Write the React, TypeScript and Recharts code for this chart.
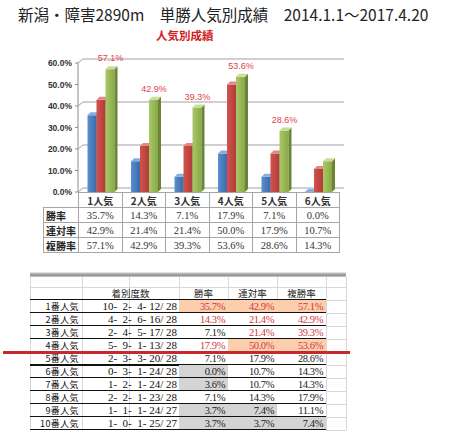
import React from 'react';
import { BarChart, Bar, XAxis, YAxis, CartesianGrid, LabelList } from 'recharts';

// chart + data table
const categories = ['1人気', '2人気', '3人気', '4人気', '5人気', '6人気'];
const winRate = [35.7, 14.3, 7.1, 17.9, 7.1, 0.0];
const placeRate = [42.9, 21.4, 21.4, 50.0, 17.9, 10.7];
const showRate = [57.1, 42.9, 39.3, 53.6, 28.6, 14.3];
const showLabelled = [true, true, true, true, true, false];
const yTicks = [0, 10, 20, 30, 40, 50, 60];
const tableLabels = ['勝率', '連対率', '複勝率'];

// spreadsheet
const rankNames = ['1番人気', '2番人気', '3番人気', '4番人気', '5番人気', '6番人気', '7番人気', '8番人気', '9番人気', '10番人気'];
const firsts = [10, 4, 2, 5, 2, 0, 1, 2, 1, 1];
const seconds = [2, 2, 4, 9, 3, 3, 2, 2, 1, 0];
const thirds = [4, 6, 5, 1, 3, 1, 1, 1, 1, 1];
const others = [12, 16, 17, 13, 20, 24, 24, 23, 24, 25];
const runs = [28, 28, 28, 28, 28, 28, 28, 28, 27, 27];
const sheetWin = ['35.7%', '14.3%', '7.1%', '17.9%', '7.1%', '0.0%', '3.6%', '7.1%', '3.7%', '3.7%'];
const sheetPlace = ['42.9%', '21.4%', '21.4%', '50.0%', '17.9%', '10.7%', '10.7%', '14.3%', '7.4%', '3.7%'];
const sheetShow = ['57.1%', '42.9%', '39.3%', '53.6%', '28.6%', '14.3%', '14.3%', '17.9%', '11.1%', '7.4%'];
const sheetHeads = ['着別度数', '勝率', '連対率', '複勝率'];
// o = orange fill + red text, r = red text, g = grey fill
const cellMarks = [
  ['o', 'o', 'o'],
  ['r', 'r', 'r'],
  ['', 'r', 'r'],
  ['r', 'o', 'o'],
  ['', '', ''],
  ['g', '', ''],
  ['g', '', ''],
  ['', '', ''],
  ['g', 'g', ''],
  ['g', 'g', 'g'],
];

const chartData = categories.map((name, i) => ({ name, win: winRate[i], place: placeRate[i], show: showRate[i] }));

const JP = '"Noto Sans CJK JP", sans-serif';
const SERIF = '"Liberation Serif", "DejaVu Serif", serif';

const bar3d = (grad: string, side: string, top: string) => (p: any) => {
  const { x, y, width, height } = p;
  if (x == null || y == null) return null;
  const d = 3;
  const bx = x + 1.5;
  const h = Math.max(height, 0);
  return (
    <g>
      <rect x={bx} y={y} width={width} height={h} fill={`url(#${grad})`} />
      <polygon points={`${bx + width},${y} ${bx + width + d},${y - d} ${bx + width + d},${y + h - d} ${bx + width},${y + h}`} fill={side} />
      <polygon points={`${bx},${y} ${bx + d},${y - d} ${bx + width + d},${y - d} ${bx + width},${y}`} fill={top} />
    </g>
  );
};

const wallLine = (p: any) => (
  <path
    key={`wall-${p.index}`}
    d={`M${p.x1},${p.y1} L${p.x1 + 5},${p.y1 - 4} L${p.x2 + 5},${p.y2 - 4}`}
    stroke="#a0a0a0"
    fill="none"
  />
);

const greenLabel = (p: any) => {
  if (!showLabelled[p.index]) return null;
  return (
    <text
      key={`lbl-${p.index}`}
      x={p.x + p.width / 2 + 2}
      y={p.y - 8}
      textAnchor="middle"
      fill="#e0424a"
      fontSize={9}
      fontFamily='"Liberation Sans", Arial, sans-serif'
    >
      {`${Number(p.value).toFixed(1)}%`}
    </text>
  );
};

const abs = (left: number, top: number, width: number, height: number): React.CSSProperties => ({
  position: 'absolute',
  left,
  top,
  width,
  height,
  boxSizing: 'border-box',
});

const DataTable = () => {
  const x0 = 43;
  const x1 = 78;
  const cw = 43.5;
  const top = 192;
  const rh = 15;
  const line = '1px solid #a6a6a6';
  const cells: React.ReactNode[] = [];
  categories.forEach((c, j) => {
    cells.push(
      <div key={`h${j}`} style={{ ...abs(x1 + j * cw, top, cw + 1, rh + 1), border: line, textAlign: 'center', fontFamily: JP, fontSize: 10, lineHeight: `${rh}px`, color: '#333', fontWeight: 600 }}>
        {c}
      </div>
    );
  });
  [winRate, placeRate, showRate].forEach((vals, r) => {
    const y = top + (r + 1) * rh;
    cells.push(
      <div key={`l${r}`} style={{ ...abs(x0, y, x1 - x0 + 1, rh + 1), border: line, paddingLeft: 2, fontFamily: JP, fontSize: 10, lineHeight: `${rh}px`, color: '#222', fontWeight: 700 }}>
        {tableLabels[r]}
      </div>
    );
    vals.forEach((v, j) => {
      cells.push(
        <div key={`c${r}-${j}`} style={{ ...abs(x1 + j * cw, y, cw + 1, rh + 1), border: line, textAlign: 'center', fontFamily: SERIF, fontSize: 10.5, lineHeight: `${rh}px`, color: '#333' }}>
          {`${v.toFixed(1)}%`}
        </div>
      );
    });
  });
  return <>{cells}</>;
};

const Sheet = () => {
  const edges = [30, 82, 129, 179, 228, 277, 326, 346];
  const headTop = 287;
  const rowTop = 300;
  const rh = 13;
  const grid = '#d9d9d9';
  const els: React.ReactNode[] = [];
  const bottom = rowTop + rankNames.length * rh;
  // picture shadow edge
  els.push(<div key="shadow" style={{ ...abs(30, 272, 316, 5), background: 'linear-gradient(#f2f2f2, #8a8a8a 60%, #cfcfcf)' }} />);
  // light gridlines
  edges.forEach((x, i) =>
    els.push(<div key={`gv${i}`} style={{ ...abs(x, 277, 1, bottom - 277), background: grid }} />)
  );
  els.push(<div key="gh0" style={{ ...abs(30, headTop, 316, 1), background: grid }} />);
  for (let i = 0; i <= rankNames.length; i++) {
    els.push(<div key={`gh${i + 1}`} style={{ ...abs(326, rowTop + i * rh, 20, 1), background: grid }} />);
  }
  // headers
  const headSpans = [
    [edges[1], edges[3]],
    [edges[3], edges[4]],
    [edges[4], edges[5]],
    [edges[5], edges[6]],
  ];
  sheetHeads.forEach((h, i) => {
    const [a, b] = headSpans[i];
    els.push(
      <div key={`hd${i}`} style={{ ...abs(a, headTop, b - a, rh), textAlign: 'center', fontFamily: JP, fontSize: 9.5, lineHeight: `${rh}px`, color: '#222' }}>
        {h}
      </div>
    );
  });
  const rates = [sheetWin, sheetPlace, sheetShow];
  rankNames.forEach((name, i) => {
    const y = rowTop + i * rh;
    els.push(
      <div key={`n${i}`} style={{ ...abs(edges[0] - 4, y, edges[1] - edges[0] + 1, rh), textAlign: 'right', fontFamily: JP, fontSize: 9, letterSpacing: 0.4, lineHeight: `${rh}px`, color: '#111', whiteSpace: 'nowrap' }}>
        {name}
      </div>
    );
    const rec = `${firsts[i]}-${String(seconds[i]).padStart(3, ' ')}-${String(thirds[i]).padStart(3, ' ')}-${String(others[i]).padStart(3, ' ')}/ ${runs[i]}`;
    els.push(
      <div key={`r${i}`} style={{ ...abs(edges[1], y, edges[3] - edges[1] - 2, rh), textAlign: 'right', fontFamily: SERIF, fontSize: 11, lineHeight: `${rh}px`, color: '#111', whiteSpace: 'pre' }}>
        {rec}
      </div>
    );
    rates.forEach((col, k) => {
      const mark = cellMarks[i][k];
      const bg = mark === 'o' ? '#fbcfae' : mark === 'g' ? '#d4d4d4' : '#fff';
      const color = mark === 'o' || mark === 'r' ? '#d2383c' : '#222';
      const a = edges[k + 3];
      const b = edges[k + 4];
      els.push(
        <div key={`v${i}-${k}`} style={{ ...abs(a, y, b - a, rh), background: bg, textAlign: 'right', paddingRight: 3, fontFamily: SERIF, fontSize: 10.5, letterSpacing: -0.4, lineHeight: `${rh}px`, color }}>
          {col[i]}
        </div>
      );
    });
    els.push(<div key={`b${i}`} style={{ ...abs(30, y + rh - 1, 296, i === 4 ? 2 : 1), background: '#111' }} />);
  });
  els.push(<div key="headline" style={{ ...abs(30, rowTop - 1, 296, 1), background: '#111' }} />);
  // red marker line
  els.push(<div key="red" style={{ ...abs(3, 351, 347, 3), background: '#c8282d' }} />);
  return <>{els}</>;
};

export default function App() {
  return (
    <div style={{ position: 'absolute', left: 0, top: 0, width: 450, height: 446, background: '#fff', overflow: 'hidden' }}>
      <div style={{ position: 'absolute', left: 18, top: 4, fontFamily: JP, fontSize: 15.5, lineHeight: '20px', color: '#222', whiteSpace: 'nowrap' }}>
        新潟・障害2890m　単勝人気別成績　2014.1.1～2017.4.20
      </div>
      <div style={{ position: 'absolute', left: 156, top: 28, fontFamily: JP, fontSize: 11.5, fontWeight: 700, lineHeight: '14px', color: '#d01c1c', whiteSpace: 'nowrap' }}>
        人気別成績
      </div>
      <div style={{ position: 'absolute', left: 0, top: 0 }}>
        <BarChart width={360} height={200} data={chartData} margin={{ top: 63, right: 21, left: 8, bottom: 8 }} barGap={0} barSize={9}>
          <defs>
            <linearGradient id="gBlue" x1="0" y1="0" x2="1" y2="0">
              <stop offset="0%" stopColor="#5b8fd0" />
              <stop offset="100%" stopColor="#3b6aa8" />
            </linearGradient>
            <linearGradient id="gRed" x1="0" y1="0" x2="1" y2="0">
              <stop offset="0%" stopColor="#d4524e" />
              <stop offset="100%" stopColor="#b03c39" />
            </linearGradient>
            <linearGradient id="gGreen" x1="0" y1="0" x2="1" y2="0">
              <stop offset="0%" stopColor="#a9c865" />
              <stop offset="100%" stopColor="#89a84a" />
            </linearGradient>
          </defs>
          <CartesianGrid vertical={false} horizontal={wallLine} />
          <XAxis dataKey="name" hide />
          <YAxis
            domain={[0, 60]}
            ticks={yTicks}
            width={70}
            tickSize={3}
            tickMargin={3}
            axisLine={{ stroke: '#8c8c8c' }}
            tickLine={{ stroke: '#8c8c8c' }}
            tick={{ fontSize: 8.5, fontWeight: 700, fill: '#333', fontFamily: '"Liberation Sans", Arial, sans-serif' }}
            tickFormatter={(v: number) => `${v.toFixed(1)}%`}
          />
          <Bar dataKey="win" shape={bar3d('gBlue', '#2f5589', '#86aee0')} isAnimationActive={false} />
          <Bar dataKey="place" shape={bar3d('gRed', '#8e2b28', '#e08985')} isAnimationActive={false} />
          <Bar dataKey="show" shape={bar3d('gGreen', '#6a8634', '#c8de98')} isAnimationActive={false}>
            <LabelList dataKey="show" content={greenLabel} />
          </Bar>
        </BarChart>
      </div>
      <DataTable />
      <Sheet />
    </div>
  );
}
